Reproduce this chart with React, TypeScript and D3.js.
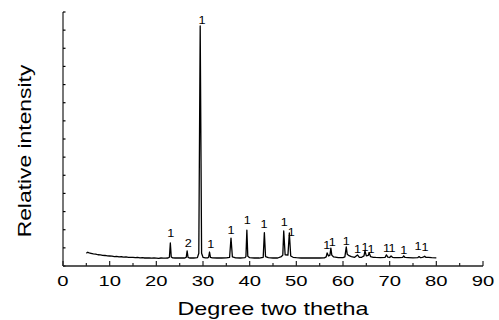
import React from "react";
import * as d3 from "d3";

// XRD pattern points: [2θ (degrees), relative intensity]
const pattern: [number, number][] = [
  [5.0, 70], [5.3, 76], [5.6, 72], [6, 70], [6.5, 67], [7, 66], [7.5, 62], [8, 61], [8.5, 59], [9, 58],
  [9.5, 56], [10, 55], [10.5, 54], [11, 52], [11.5, 53], [12, 50], [12.5, 51], [13, 49], [13.5, 50], [14, 48],
  [14.5, 47], [15, 48], [15.5, 46], [16, 47], [16.5, 45], [17, 46], [17.5, 44], [18, 45], [18.5, 44], [19, 43],
  [19.5, 44], [20, 43], [20.5, 42], [21, 44], [21.5, 43], [22, 43], [22.5, 44], [22.8, 48], [23.0, 127], [23.2, 50],
  [23.5, 45], [24, 44], [25, 44], [26, 44], [26.4, 47], [26.6, 83], [26.8, 47], [27.2, 44], [28, 44], [28.8, 46],
  [29.1, 70], [29.4, 1323], [29.7, 70], [30, 48], [30.5, 45], [31, 45], [31.2, 48], [31.4, 77], [31.6, 48], [32, 45],
  [33, 44], [34, 44], [35, 45], [35.7, 48], [36.0, 154], [36.3, 50], [37, 45], [38, 44], [39, 46], [39.2, 52],
  [39.4, 198], [39.6, 54], [40, 46], [41, 44], [42, 44], [42.9, 48], [43.15, 184], [43.4, 52], [44, 46], [45, 44],
  [46, 44], [46.8, 52], [47.1, 60], [47.3, 193], [47.6, 62], [48.2, 60], [48.5, 182], [48.8, 55], [49.3, 48], [50, 46],
  [51, 44], [52, 44], [53, 44], [54, 44], [55, 44], [56, 45], [56.4, 50], [56.6, 72], [56.9, 55], [57.2, 60],
  [57.4, 99], [57.6, 60], [58, 50], [59, 46], [60, 46], [60.4, 50], [60.7, 105], [60.9, 65], [61.3, 57], [61.8, 52],
  [62.5, 48], [63.1, 61], [63.5, 48], [64, 48], [64.5, 56], [64.7, 84], [65, 56], [65.4, 58], [65.6, 73], [65.9, 52],
  [66.5, 48], [67, 47], [68, 46], [69, 47], [69.3, 61], [69.6, 49], [70, 47], [70.3, 55], [70.6, 48], [71, 46],
  [72, 46], [72.8, 48], [73.0, 56], [73.3, 47], [74, 46], [75, 45], [76, 46], [76.3, 52], [76.6, 46], [77, 48],
  [77.3, 50], [77.5, 54], [77.8, 47], [78.3, 48], [79, 46], [80, 45],
];

// Phase labels above peaks
const labelAngles = [23.07, 26.85, 29.8, 31.65, 36.0, 39.5, 43.1, 47.4, 48.9, 56.5, 57.7, 60.7, 63.1, 64.7, 66.0, 69.3, 70.5, 73.0, 76.1, 77.6];
const labelTexts = ["1", "2", "1", "1", "1", "1", "1", "1", "1", "1", "1", "1", "1", "1", "1", "1", "1", "1", "1", "1"];
const labelLevels = [182, 125, 1356, 121, 195, 250, 232, 241, 189, 116, 131, 138, 92, 103, 92, 101, 98, 88, 112, 103];

const xMajorTicks = [0, 10, 20, 30, 40, 50, 60, 70, 80, 90];
const xMinorTicks = [5, 15, 25, 35, 45, 55, 65, 75, 85];
const yTicks = d3.range(0, 1401, 100);

const xTitle = "Degree two thetha";
const yTitle = "Relative intensity";

export default function App() {
  const W = 499, H = 320;
  const x = d3.scaleLinear().domain([0, 90]).range([63, 483]);
  const y = d3.scaleLinear().domain([0, 1400]).range([266, 12]);
  const line = d3.line<[number, number]>().x(d => x(d[0])).y(d => y(d[1]));
  const font = "'Liberation Sans', Arial, sans-serif";

  return (
    <svg width={W} height={H} style={{ position: "absolute", left: 0, top: 0, background: "#fff" }}>
      {/* y axis */}
      <line x1={x(0)} x2={x(0)} y1={y(0)} y2={y(1400)} stroke="#555" strokeWidth={1.6} />
      {yTicks.map(t => (
        <line key={"yt" + t} x1={x(0)} x2={x(0) + 2.5} y1={y(t)} y2={y(t)} stroke="#000" strokeWidth={1.2} />
      ))}
      {/* x axis */}
      <line x1={x(0)} x2={x(90)} y1={y(0)} y2={y(0)} stroke="#222" strokeWidth={1.4} />
      {xMajorTicks.map(t => (
        <line key={"xM" + t} x1={x(t)} x2={x(t)} y1={y(0)} y2={y(0) - 5} stroke="#222" strokeWidth={1.2} />
      ))}
      {xMinorTicks.map(t => (
        <line key={"xm" + t} x1={x(t)} x2={x(t)} y1={y(0)} y2={y(0) - 3} stroke="#222" strokeWidth={1.2} />
      ))}
      {xMajorTicks.map(t => (
        <text key={"xl" + t} transform={`translate(${x(t)},286) scale(1.35,1)`} textAnchor="middle" fontFamily={font} fontSize={15} fill="#000">{t}</text>
      ))}
      {/* pattern */}
      <path d={line(pattern) || ""} fill="none" stroke="#000" strokeWidth={1.3} strokeLinejoin="round" />
      {labelAngles.map((a, i) => (
        <text key={"pl" + i} transform={`translate(${x(a)},${y(labelLevels[i])}) scale(1.15,1)`} dy="0.35em" textAnchor="middle" fontFamily={font} fontSize={11} fill="#000">{labelTexts[i]}</text>
      ))}
      {/* titles */}
      <text transform={`translate(273,315) scale(1.3,1)`} textAnchor="middle" fontFamily={font} fontSize={18} fill="#000">{xTitle}</text>
      <text transform={`translate(31,151) rotate(-90) scale(1.27,1)`} textAnchor="middle" fontFamily={font} fontSize={18} fill="#000">{yTitle}</text>
    </svg>
  );
}
